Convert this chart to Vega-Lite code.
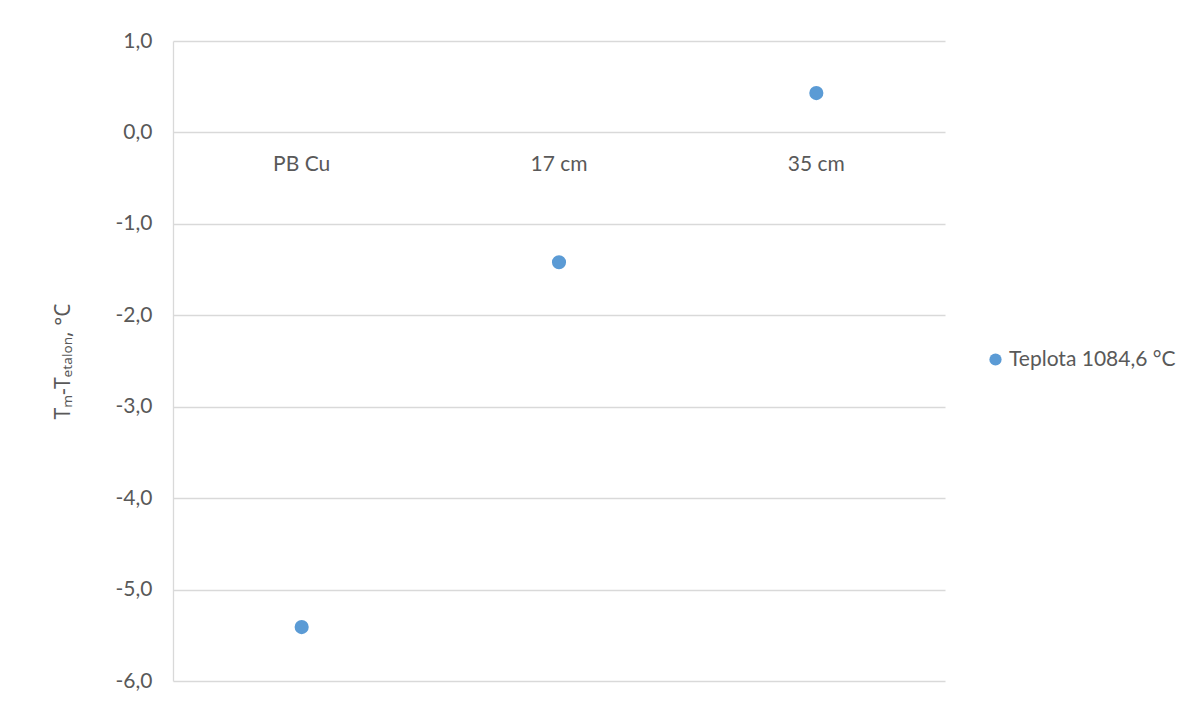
{
  "$schema": "https://vega.github.io/schema/vega-lite/v6.json",
  "width": 772,
  "height": 640,
  "autosize": "none",
  "padding": {"left": 173, "top": 41, "right": 249, "bottom": 23},
  "background": "white",
  "config": {
    "view": {"stroke": null},
    "font": "Lato",
    "axis": {"labelFont": "Lato", "titleFont": "Noto Sans"},
    "legend": {"labelFont": "Lato"}
  },
  "data": {
    "values": [
      {"kategorie": "PB Cu", "rozdil": -5.41, "serie": "Teplota 1084,6 °C"},
      {"kategorie": "17 cm", "rozdil": -1.42, "serie": "Teplota 1084,6 °C"},
      {"kategorie": "35 cm", "rozdil": 0.43, "serie": "Teplota 1084,6 °C"}
    ]
  },
  "mark": {"type": "point", "filled": true, "size": 200, "opacity": 1},
  "encoding": {
    "x": {
      "field": "kategorie",
      "type": "nominal",
      "sort": null,
      "scale": {"type": "band", "paddingInner": 0, "paddingOuter": 0},
      "axis": {
        "orient": "bottom",
        "offset": -548.6,
        "title": null,
        "domain": false,
        "ticks": false,
        "grid": false,
        "labelAngle": 0,
        "labelPadding": 21,
        "labelFontSize": 21,
        "labelColor": "#595959"
      }
    },
    "y": {
      "field": "rozdil",
      "type": "quantitative",
      "scale": {"domain": [-6, 1], "nice": false, "zero": false},
      "axis": {
        "values": [-6, -5, -4, -3, -2, -1, 0, 1],
        "labelExpr": "replace(replace(format(datum.value, '.1f'), '.', ','), '−', '-')",
        "grid": true,
        "gridColor": "#d9d9d9",
        "gridWidth": 1.3,
        "domain": true,
        "domainColor": "#d9d9d9",
        "domainWidth": 1.3,
        "ticks": false,
        "labelPadding": 21,
        "labelFontSize": 21,
        "labelColor": "#595959",
        "title": "Tₘ-Tₑₜₐₗₒₙ, °C",
        "titleFontSize": 21,
        "titleFontWeight": "normal",
        "titleColor": "#595959",
        "titlePadding": 42
      }
    },
    "color": {
      "field": "serie",
      "type": "nominal",
      "scale": {"range": ["#5b9bd5"]},
      "legend": {
        "title": null,
        "orient": "none",
        "legendX": 812,
        "legendY": 308,
        "symbolType": "circle",
        "symbolSize": 150,
        "labelFontSize": 21,
        "labelLimit": 400,
        "labelColor": "#595959",
        "labelOffset": 3
      }
    }
  }
}
